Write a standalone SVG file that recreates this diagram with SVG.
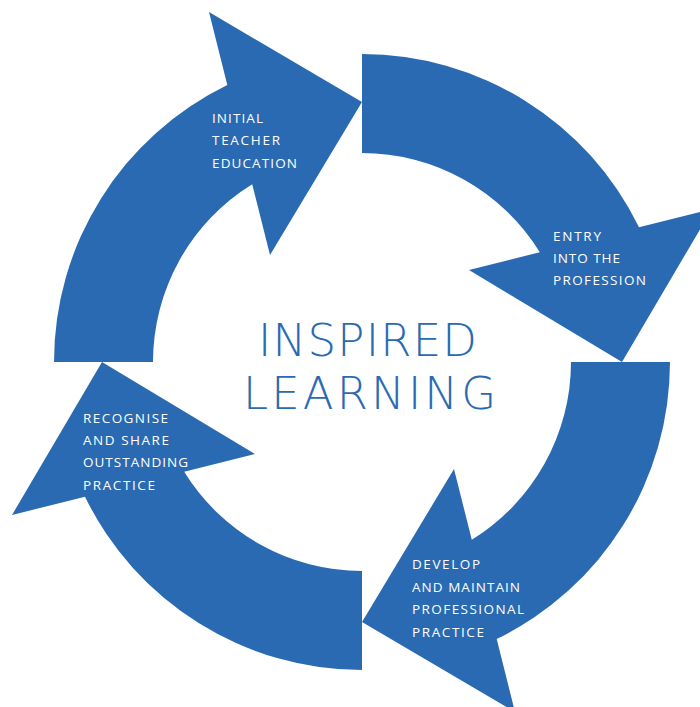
<svg xmlns="http://www.w3.org/2000/svg" width="700" height="707" viewBox="0 0 700 707">
<defs>
<style>
.arrow{fill:#2a6ab2;}
.lbl{fill:#ffffff;font-family:"Open Sans","Liberation Sans",sans-serif;font-size:13.5px;font-weight:400;}
.title{fill:#2a6ab2;font-family:"DejaVu Sans","Open Sans",sans-serif;font-size:45px;font-weight:200;}
</style>
<path id="arr" d="M -308,0 A 308 308 0 0 1 -134.7,-277 L -153,-350 L 0,-260 L -92,-107 L -109.8,-177.8 A 209 209 0 0 0 -209,0 Z"/>
</defs>
<rect width="700" height="707" fill="#ffffff"/>
<g id="connectors">
<g id="arrow-initial" transform="translate(362,362)"><use href="#arr" class="arrow"/></g>
<g id="arrow-entry" transform="translate(362,362) rotate(90)"><use href="#arr" class="arrow"/></g>
<g id="arrow-develop" transform="translate(362,362) rotate(180)"><use href="#arr" class="arrow"/></g>
<g id="arrow-recognise" transform="translate(362,362) rotate(270)"><use href="#arr" class="arrow"/></g>
</g>
<g id="node-initial">
<text class="lbl" x="212" y="123" textLength="51" lengthAdjust="spacing">INITIAL</text>
<text class="lbl" x="212" y="145" textLength="68" lengthAdjust="spacing">TEACHER</text>
<text class="lbl" x="212" y="168" textLength="85" lengthAdjust="spacing">EDUCATION</text>
</g>
<g id="node-entry">
<text class="lbl" x="553" y="241" textLength="48" lengthAdjust="spacing">ENTRY</text>
<text class="lbl" x="553" y="263" textLength="67" lengthAdjust="spacing">INTO THE</text>
<text class="lbl" x="553" y="285" textLength="93" lengthAdjust="spacing">PROFESSION</text>
</g>
<g id="node-develop">
<text class="lbl" x="412" y="569" textLength="68" lengthAdjust="spacing">DEVELOP</text>
<text class="lbl" x="412" y="592" textLength="108" lengthAdjust="spacing">AND MAINTAIN</text>
<text class="lbl" x="412" y="614" textLength="112" lengthAdjust="spacing">PROFESSIONAL</text>
<text class="lbl" x="412" y="637" textLength="72" lengthAdjust="spacing">PRACTICE</text>
</g>
<g id="node-recognise">
<text class="lbl" x="83" y="423" textLength="85" lengthAdjust="spacing">RECOGNISE</text>
<text class="lbl" x="83" y="445" textLength="86" lengthAdjust="spacing">AND SHARE</text>
<text class="lbl" x="83" y="467" textLength="105" lengthAdjust="spacing">OUTSTANDING</text>
<text class="lbl" x="83" y="490" textLength="72" lengthAdjust="spacing">PRACTICE</text>
</g>
<g id="node-center">
<text class="title" x="258" y="356" textLength="219" lengthAdjust="spacing">INSPIRED</text>
<text class="title" x="243" y="409" textLength="253" lengthAdjust="spacing">LEARNING</text>
</g>
</svg>
